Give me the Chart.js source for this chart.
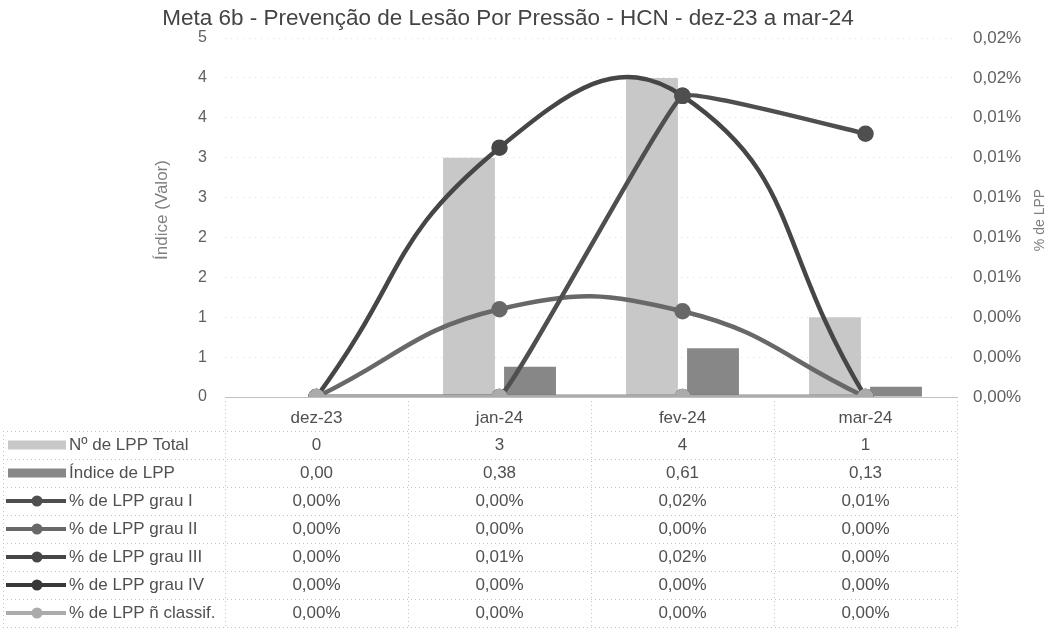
<!DOCTYPE html>
<html><head><meta charset="utf-8">
<script src="https://cdn.jsdelivr.net/npm/chart.js@4.4.1/dist/chart.umd.min.js"></script>
<style>html,body{margin:0;padding:0;background:#fff}#wrap{width:1050px;height:642px;position:relative}</style>
</head><body><div id="wrap"><canvas id="c" width="1050" height="642"></canvas></div>
<script>
const chartTitle = 'Meta 6b - Prevenção de Lesão Por Pressão - HCN - dez-23 a mar-24';
const leftAxisTitle = 'Índice (Valor)';
const rightAxisTitle = '% de LPP';
const categories = ['dez-23', 'jan-24', 'fev-24', 'mar-24'];
const totalLPP = [0, 3, 4, 1];
const indiceLPP = [0.00, 0.38, 0.61, 0.13];
const grauI = [0, 0, 0.0151, 0.0132];
const grauII = [0, 0.0044, 0.0043, 0];
const grauIII = [0, 0.0125, 0.0151, 0];
const grauIV = [0, 0, 0, 0];
const naoClassif = [0, 0, 0, 0];
const leftTickLabels = ['0', '1', '1', '2', '2', '3', '3', '4', '4', '5'];
const rightTickLabels = ['0,00%', '0,00%', '0,00%', '0,01%', '0,01%', '0,01%', '0,01%', '0,01%', '0,02%', '0,02%'];
const seriesNames = ['Nº de LPP Total', 'Índice de LPP', '% de LPP grau I', '% de LPP grau II', '% de LPP grau III', '% de LPP grau IV', '% de LPP ñ classif.'];

const FONT = '"Liberation Sans", Arial, sans-serif';
const TXT = '#505050';
const colors = ['#c8c8c8', '#878787', '#4f4f4f', '#686868', '#464646', '#383838', '#ababab'];
const tensions = [0, 0, 0.08, 0.45, 0.5, 0.4, 0.4];
const orders = [10, 10, 2, 2, 2, 2, 1];

function fmtInt(v) { return String(Math.round(v)); }
function fmtDec(v) { return v.toFixed(2).replace('.', ','); }
function fmtPct(v) { return v.toFixed(2).replace('.', ',') + '%'; }

const lineSeries = [grauI, grauII, grauIII, grauIV, naoClassif];
const tableRows = [
  totalLPP.map(fmtInt),
  indiceLPP.map(fmtDec),
  ...lineSeries.map(s => s.map(fmtPct))
];

function lineDs(i, data) {
  return {
    type: 'line', label: seriesNames[i], data: data, yAxisID: 'y1', order: orders[i],
    borderColor: colors[i], backgroundColor: colors[i], borderWidth: 4.5,
    pointRadius: 6, pointHoverRadius: 6, pointBackgroundColor: colors[i],
    pointBorderColor: colors[i], tension: tensions[i], fill: false
  };
}

const decor = {
  id: 'decor',
  afterDraw(chart) {
    const ctx = chart.ctx;
    const xs = chart.scales.x;
    const ca = chart.chartArea;
    ctx.save();
    ctx.textAlign = 'center';
    ctx.textBaseline = 'middle';
    ctx.fillStyle = '#444';
    ctx.font = '22.5px ' + FONT;
    ctx.fillText(chartTitle, 508, 19);
    ctx.fillStyle = '#808080';
    ctx.font = '17px ' + FONT;
    ctx.save();
    ctx.translate(162, 210);
    ctx.rotate(-Math.PI / 2);
    ctx.fillText(leftAxisTitle, 0, 0);
    ctx.restore();
    ctx.font = '14px ' + FONT;
    ctx.save();
    ctx.translate(1040, 220);
    ctx.rotate(-Math.PI / 2);
    ctx.fillText(rightAxisTitle, 0, 0);
    ctx.restore();

    const w = xs.width / categories.length;
    const tableTop = ca.bottom + 34;
    const rowH = 28;
    const legLeft = 3;
    const n = seriesNames.length;
    ctx.strokeStyle = '#c4c4c4';
    ctx.lineWidth = 1;
    ctx.setLineDash([1, 3]);
    ctx.beginPath();
    for (let r = 0; r <= n; r++) {
      const y = Math.round(tableTop + r * rowH) + 0.5;
      ctx.moveTo(legLeft, y);
      ctx.lineTo(xs.right, y);
    }
    for (let i = 0; i <= categories.length; i++) {
      const x = Math.round(xs.left + i * w) + 0.5;
      ctx.moveTo(x, ca.bottom);
      ctx.lineTo(x, tableTop + n * rowH);
    }
    ctx.moveTo(legLeft + 0.5, tableTop);
    ctx.lineTo(legLeft + 0.5, tableTop + n * rowH);
    ctx.stroke();
    ctx.setLineDash([]);

    ctx.font = '17px ' + FONT;
    ctx.textBaseline = 'middle';
    for (let r = 0; r < n; r++) {
      const yc = tableTop + r * rowH + rowH / 2;
      ctx.fillStyle = colors[r];
      ctx.strokeStyle = colors[r];
      if (r < 2) {
        ctx.fillRect(8, yc - 4.5, 58, 9);
      } else {
        ctx.lineWidth = 4;
        ctx.beginPath(); ctx.moveTo(6, yc); ctx.lineTo(66, yc); ctx.stroke();
        ctx.beginPath(); ctx.arc(37, yc, 5.5, 0, Math.PI * 2); ctx.fill();
      }
      ctx.fillStyle = TXT;
      ctx.textAlign = 'left';
      ctx.fillText(seriesNames[r], 69, yc);
      ctx.textAlign = 'center';
      for (let i = 0; i < categories.length; i++) {
        ctx.fillText(tableRows[r][i], xs.getPixelForValue(i), yc);
      }
    }
    ctx.restore();
  }
};

new Chart(document.getElementById('c'), {
  data: {
    labels: categories,
    datasets: [
      { type: 'bar', label: seriesNames[0], data: totalLPP, yAxisID: 'y', order: orders[0],
        backgroundColor: colors[0], categoryPercentage: 0.667, barPercentage: 0.85 },
      { type: 'bar', label: seriesNames[1], data: indiceLPP, yAxisID: 'y', order: orders[1],
        backgroundColor: colors[1], categoryPercentage: 0.667, barPercentage: 0.85 },
      lineDs(2, grauI), lineDs(3, grauII), lineDs(4, grauIII), lineDs(5, grauIV), lineDs(6, naoClassif)
    ]
  },
  options: {
    responsive: false, animation: false, devicePixelRatio: 1,
    layout: { padding: { top: 38, bottom: 211, left: 0, right: 0 } },
    plugins: { legend: { display: false }, title: { display: false }, tooltip: { enabled: false } },
    scales: {
      x: {
        offset: true,
        grid: { display: false, drawTicks: false },
        border: { display: true, color: '#c0c0c0', width: 1 },
        ticks: { color: TXT, font: { family: FONT, size: 17 }, padding: 11 },
        afterFit(s) { s.height = 34; }
      },
      y: {
        position: 'left', min: 0, max: 4.5,
        ticks: { stepSize: 0.5, color: '#606060', font: { family: FONT, size: 16 }, padding: 18,
          callback: (v, i) => leftTickLabels[i] },
        grid: { color: '#e0e0e0', drawTicks: false },
        border: { display: false, dash: [1, 5] },
        afterFit(s) { s.width = 225; }
      },
      y1: {
        position: 'right', min: 0, max: 0.018,
        ticks: { stepSize: 0.002, color: '#606060', font: { family: FONT, size: 17 }, padding: 16,
          callback: (v, i) => rightTickLabels[i] },
        grid: { display: false, drawTicks: false },
        border: { display: false },
        afterFit(s) { s.width = 93; }
      }
    }
  },
  plugins: [decor]
});
</script>
</body></html>
